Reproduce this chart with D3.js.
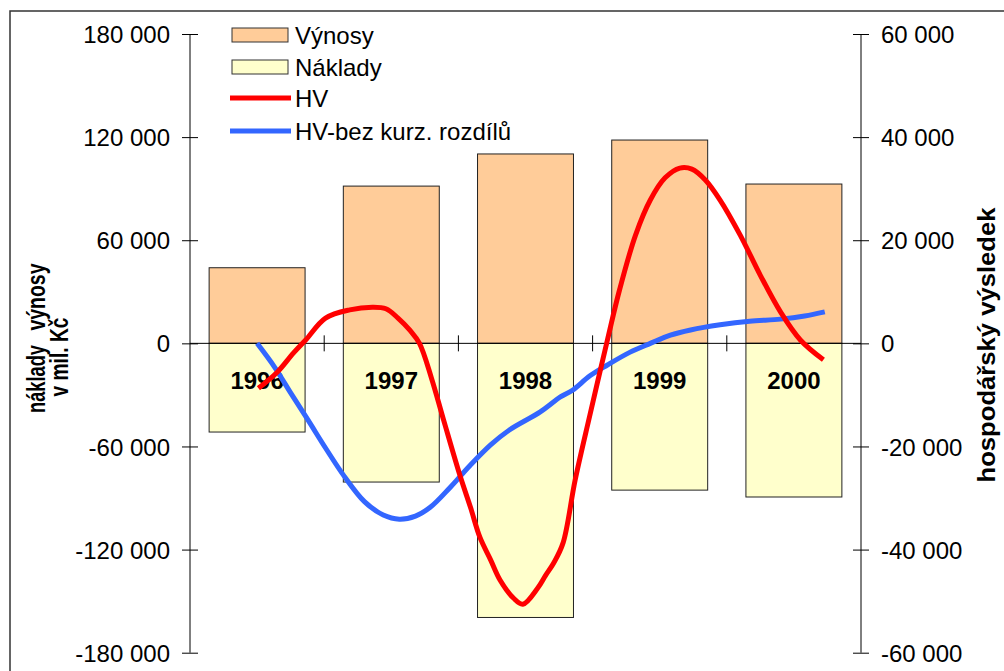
<!DOCTYPE html>
<html><head><meta charset="utf-8">
<script src="https://cdn.jsdelivr.net/npm/d3@7"></script>
<style>
html,body{margin:0;padding:0;background:#fff;}
svg text{font-family:"Liberation Sans",Arial,sans-serif;}
</style></head>
<body>
<svg id="chart" width="1004" height="671"></svg>
<script>
// ---- data ----
const years = ["1996","1997","1998","1999","2000"];
const vynosy = [44000, 91500, 110200, 118300, 92700];
const naklady = [-51600, -80700, -159500, -85400, -89400];
const leftTicks = [180000, 120000, 60000, 0, -60000, -120000, -180000];
const rightTicks = [60000, 40000, 20000, 0, -20000, -40000, -60000];
// HV series (time in decimal years, value in mil. Kč)
const hvT = [1996.01,1996.15,1996.27,1996.36,1996.51,1996.69,1996.86,1996.96,1997.05,1997.14,1997.21,1997.30,1997.39,1997.51,1997.59,1997.66,1997.74,1997.81,1997.91,1997.98,1998.09,1998.15,1998.21,1998.28,1998.37,1998.48,1998.61,1998.70,1998.82,1998.93,1999.04,1999.15,1999.24,1999.34,1999.45,1999.60,1999.75,1999.90,2000.05,2000.22];
const hvV = [-8700,-5600,-1900,600,4900,6500,7000,6700,4900,2500,0,-6800,-14900,-25500,-31800,-37600,-42000,-45900,-49400,-50600,-47500,-45000,-42600,-38700,-26500,-13900,600,10300,21000,27800,32100,34000,33800,31700,27800,21000,13200,6100,600,-3200];
// HV bez kurzových rozdílů
const hvbT = [1996.00,1996.13,1996.25,1996.38,1996.51,1996.65,1996.80,1996.94,1997.06,1997.18,1997.29,1997.44,1997.59,1997.74,1997.88,1998.11,1998.26,1998.35,1998.48,1998.61,1998.78,1998.93,1999.08,1999.23,1999.45,1999.67,1999.90,2000.08,2000.23];
const hvbV = [0,-4600,-9600,-14900,-20300,-25800,-30700,-33300,-34100,-33500,-31800,-27900,-23600,-19700,-16800,-13300,-10400,-9100,-6300,-4200,-1700,0,1600,2600,3600,4300,4700,5300,6100];
const legendLabels = ["Výnosy","Náklady","HV","HV-bez kurz. rozdílů"];

// ---- layout ----
const svg = d3.select("#chart");
const L = 190, R = 861, T = 34, B = 652.7;
const FONT = "24px";
const colV = "#FFCC99", colN = "#FFFFCC", colHV = "#FF0000", colHVB = "#3366FF";
const fmt = d => d3.format(",")(d).replace(/,/g," ").replace("\u2212","-");

// frame
svg.append("rect").attr("x",10).attr("y",11).attr("width",1010).attr("height",700)
  .attr("fill","none").attr("stroke","#333").attr("stroke-width",1.5);

const x = d3.scaleBand().domain(years).range([L,R]).padding(0);
const bw = x.bandwidth();
const barW = bw*0.715;
const yL = d3.scaleLinear().domain([-180000,180000]).range([B,T]);
const yR = d3.scaleLinear().domain([-60000,60000]).range([B,T]);
const xt = d3.scaleLinear().domain([1996,2000]).range([x("1996")+bw/2, x("2000")+bw/2]);

// bars
svg.append("g").selectAll("rect").data(years).join("rect")
  .attr("x",d=>x(d)+(bw-barW)/2).attr("width",barW)
  .attr("y",(d,i)=>yL(vynosy[i])).attr("height",(d,i)=>yL(0)-yL(vynosy[i]))
  .attr("fill",colV).attr("stroke","#222").attr("stroke-width",1);
svg.append("g").selectAll("rect").data(years).join("rect")
  .attr("x",d=>x(d)+(bw-barW)/2).attr("width",barW)
  .attr("y",yL(0)).attr("height",(d,i)=>yL(naklady[i])-yL(0))
  .attr("fill",colN).attr("stroke","#222").attr("stroke-width",1);

// zero axis line + category ticks
svg.append("line").attr("x1",L).attr("x2",R).attr("y1",yL(0)).attr("y2",yL(0))
  .attr("stroke","#000").attr("stroke-width",1);
svg.append("g").selectAll("line").data(years.slice(1)).join("line")
  .attr("x1",d=>x(d)).attr("x2",d=>x(d)).attr("y1",yL(0)-8).attr("y2",yL(0)+8)
  .attr("stroke","#000").attr("stroke-width",1);

// category labels
svg.append("g").selectAll("text").data(years).join("text")
  .attr("x",d=>x(d)+bw/2).attr("y",yL(0)+46)
  .attr("text-anchor","middle").attr("font-size",FONT).attr("font-weight","bold")
  .text(d=>d);

// left axis
const gl = svg.append("g").attr("transform",`translate(${L},0)`);
gl.call(d3.axisLeft(yL).tickValues(leftTicks).tickSize(8).tickPadding(12).tickFormat(fmt));
gl.selectAll(".tick line").attr("x2",8).attr("x1",-8);
// right axis
const gr = svg.append("g").attr("transform",`translate(${R},0)`);
gr.call(d3.axisRight(yR).tickValues(rightTicks).tickSize(8).tickPadding(12).tickFormat(fmt));
gr.selectAll(".tick line").attr("x1",-8).attr("x2",8);
[gl,gr].forEach(g=>{
  g.select(".domain").remove();
  g.append("line").attr("y1",T).attr("y2",B).attr("stroke","#000");
  g.selectAll(".tick line").attr("stroke","#000");
  g.selectAll(".tick text").attr("font-size",FONT).attr("fill","#000")
    .attr("font-family","'Liberation Sans',Arial,sans-serif").attr("dy","0.36em");
});

// lines
const lineGen = d3.line().curve(d3.curveCatmullRom.alpha(0.5));
svg.append("path").attr("d",lineGen(hvbT.map((t,i)=>[xt(t),yR(hvbV[i])])))
  .attr("fill","none").attr("stroke",colHVB).attr("stroke-width",5).attr("stroke-linejoin","round");
svg.append("path").attr("d",lineGen(hvT.map((t,i)=>[xt(t),yR(hvV[i])])))
  .attr("fill","none").attr("stroke",colHV).attr("stroke-width",5).attr("stroke-linejoin","round");

// axis titles
const lt = svg.append("g").attr("font-weight","bold").attr("font-size","25px").attr("fill","#000");
lt.append("text").attr("transform","translate(45,297) rotate(-90)").attr("text-anchor","middle")
  .attr("textLength",67).attr("lengthAdjust","spacingAndGlyphs").text("výnosy");
lt.append("text").attr("transform","translate(45,379) rotate(-90)").attr("text-anchor","middle")
  .attr("textLength",68).attr("lengthAdjust","spacingAndGlyphs").text("náklady");
lt.append("text").attr("transform","translate(68,357) rotate(-90)").attr("text-anchor","middle")
  .attr("textLength",79).attr("lengthAdjust","spacingAndGlyphs").text("v mil. Kč");
svg.append("text").attr("transform","translate(995,345) rotate(-90)").attr("text-anchor","middle")
  .attr("font-weight","bold").attr("font-size","23px")
  .attr("textLength",275).attr("lengthAdjust","spacingAndGlyphs").text("hospodářský výsledek");

// legend
const lg = svg.append("g");
const ly = [35, 67, 98, 131];
lg.append("rect").attr("x",232).attr("y",ly[0]-7).attr("width",56).attr("height",14)
  .attr("fill",colV).attr("stroke","#333");
lg.append("rect").attr("x",232).attr("y",ly[1]-7).attr("width",56).attr("height",14)
  .attr("fill",colN).attr("stroke","#333");
lg.append("line").attr("x1",230).attr("x2",291).attr("y1",ly[2]).attr("y2",ly[2])
  .attr("stroke",colHV).attr("stroke-width",5);
lg.append("line").attr("x1",230).attr("x2",291).attr("y1",ly[3]).attr("y2",ly[3])
  .attr("stroke",colHVB).attr("stroke-width",5);
lg.selectAll("text").data(legendLabels).join("text")
  .attr("x",295).attr("y",(d,i)=>ly[i]).attr("dy","0.36em")
  .attr("font-size",FONT).text(d=>d);
</script>
</body></html>
